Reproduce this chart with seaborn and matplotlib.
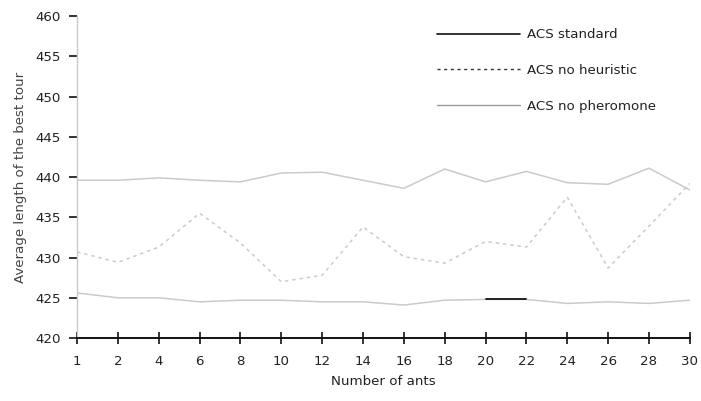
import numpy as np
import pandas as pd
import matplotlib
matplotlib.use('Agg')
import matplotlib.pyplot as plt
import seaborn as sns
from matplotlib.lines import Line2D

# data
ants = [1, 2, 4, 6, 8, 10, 12, 14, 16, 18, 20, 22, 24, 26, 28, 30]
acs_standard = [425.6, 425.0, 425.0, 424.5, 424.7, 424.7, 424.5, 424.5,
                424.1, 424.7, 424.8, 424.8, 424.3, 424.5, 424.3, 424.7]
acs_no_heuristic = [430.7, 429.4, 431.3, 435.5, 431.8, 427.0, 427.8, 433.8,
                    430.1, 429.3, 432.0, 431.3, 437.5, 428.7, 433.9, 439.2]
acs_no_pheromone = [439.6, 439.6, 439.9, 439.6, 439.4, 440.5, 440.6, 439.6,
                    438.6, 441.0, 439.4, 440.7, 439.3, 439.1, 441.1, 438.4]
y_ticks = [420, 425, 430, 435, 440, 445, 450, 455, 460]

sns.set_style('white')
plt.rcParams['font.family'] = ['DejaVu Sans']
fs = 9.6

df = pd.DataFrame({'pos': np.arange(len(ants)), 'ants': ants,
                   'standard': acs_standard,
                   'no_heuristic': acs_no_heuristic,
                   'no_pheromone': acs_no_pheromone})

fig = plt.figure(figsize=(7.01, 4.01), dpi=100)
ax = fig.add_axes([0.11, 0.157, 0.874, 0.803])

light = '#cacaca'
sns.lineplot(data=df, x='pos', y='no_pheromone', color=light, lw=1.1, ax=ax)
sns.lineplot(data=df, x='pos', y='no_heuristic', color=light, lw=1.1,
             linestyle=(0, (2.2, 2.6)), ax=ax)
sns.lineplot(data=df, x='pos', y='standard', color=light, lw=1.1, ax=ax)
# the only dark stretch of the standard line (20 -> 22 ants)
seg = df[df['ants'].isin([20, 22])]
sns.lineplot(data=seg, x='pos', y='standard', color='#222222', lw=1.4, ax=ax)

ax.set_xlim(0, len(ants) - 1)
ax.set_ylim(420, 460)
ax.set_xticks(df['pos'])
ax.set_xticklabels([str(a) for a in ants])
ax.set_yticks(y_ticks)
ax.set_yticklabels([str(t) for t in y_ticks])

ax.tick_params(axis='x', direction='inout', length=8, width=1.2, color='#111111',
               labelsize=fs, pad=8, labelcolor='#222222', bottom=True)
ax.tick_params(axis='y', direction='out', length=6, width=1.2, color='#111111',
               labelsize=fs, pad=6, labelcolor='#222222', left=True)

for s in ['top', 'right']:
    ax.spines[s].set_visible(False)
ax.spines['left'].set_color(light)
ax.spines['left'].set_linewidth(1.0)
ax.spines['bottom'].set_color('#111111')
ax.spines['bottom'].set_linewidth(1.4)

ax.set_xlabel('Number of ants', fontsize=fs, color='#222222', labelpad=5)
ax.set_ylabel('Average length of the best tour', fontsize=fs, color='#444444',
              labelpad=6)

handles = [Line2D([], [], color='#111111', lw=1.2),
           Line2D([], [], color='#333333', lw=1.0, linestyle=(0, (2.2, 2.6))),
           Line2D([], [], color='#999999', lw=1.0)]
labels = ['ACS standard', 'ACS no heuristic', 'ACS no pheromone']
ax.legend(handles, labels, loc='upper left', bbox_to_anchor=(0.575, 0.987),
          frameon=False, fontsize=fs, handlelength=6.2, handletextpad=0.5,
          labelspacing=1.72, borderaxespad=0.2, labelcolor='#222222')

fig.savefig('out.png', dpi=100)
